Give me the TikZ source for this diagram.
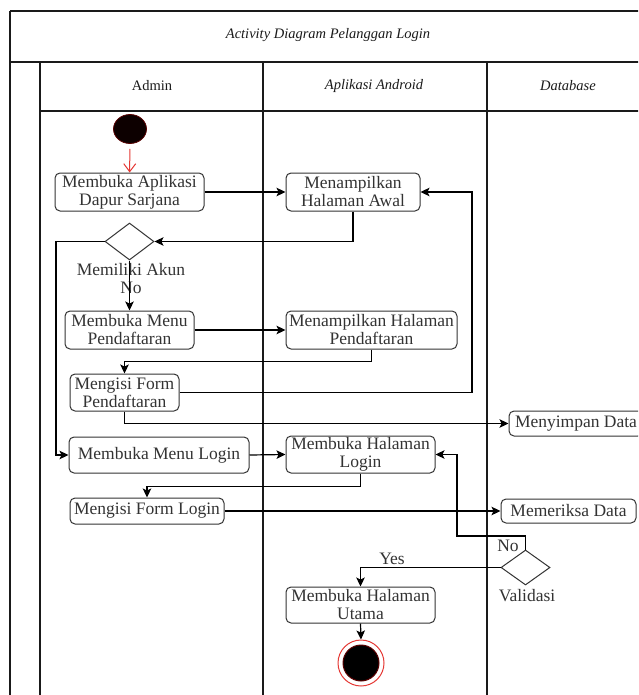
\documentclass[tikz,border=0pt]{standalone}
\usepackage{fontspec}
\setmainfont{Liberation Serif}
\usetikzlibrary{arrows.meta,shapes.geometric,calc}
\definecolor{ink}{HTML}{333333}
\definecolor{frameink}{HTML}{1A1A1A}
\definecolor{startred}{HTML}{E53935}
\definecolor{darkrim}{HTML}{5A0000}

\tikzset{
  lane/.style={draw=frameink, line width=1.5pt},
  act/.style={draw=ink, line width=1pt, rounded corners=5pt, fill=white,
    align=center, inner sep=0pt, text=ink,
    font=\fontsize{17.5}{18}\selectfont},
  decision/.style={diamond, draw=ink, line width=1pt, fill=white,
    inner sep=0pt, minimum width=49pt},
  flow/.style={draw=black, line width=1.2pt,
    -{Stealth[length=9pt,width=8.5pt,inset=2pt]}},
  startflow/.style={draw=startred, line width=1pt,
    -{Straight Barb[length=8pt,width=12pt]}},
  lbl/.style={inner sep=0pt, text=ink, font=\fontsize{17.5}{18}\selectfont},
  hdr/.style={inner sep=0pt, text=frameink, font=\fontsize{14.5}{16}\selectfont},
}

\begin{document}
\begin{tikzpicture}[x=1pt,y=-1pt]
  \useasboundingbox (0,0) rectangle (638,695);
  \fill[white] (0,0) rectangle (638,695);
  \clip (0,0) rectangle (638,695);

  % swimlane frame
  \draw[lane] (10,11) -- (648,11);
  \draw[lane] (10,62) -- (648,62);
  \draw[lane] (40,111) -- (648,111);
  \draw[lane] (10,11) -- (10,700);
  \draw[lane] (40,62) -- (40,700);
  \draw[lane] (263,62) -- (263,700);
  \draw[lane] (487,62) -- (487,700);
  \draw[lane] (648,11) -- (648,700);

  % titles
  \node[hdr] (title) at (328,35) {\itshape Activity Diagram Pelanggan Login};
  \node[hdr] (hAdmin) at (152,86) {Admin};
  \node[hdr] (hApp) at (374,86) {\itshape Aplikasi Android};
  \node[hdr] (hDb) at (568,86) {\itshape Database};

  % start / end
  \node[ellipse, fill=black!95!red, draw=darkrim, line width=0.8pt,
        minimum width=33pt, minimum height=29pt, inner sep=0pt] (start) at (130,129) {};
  \node[circle, draw=startred, line width=1pt, fill=white,
        minimum size=46pt, inner sep=0pt] (end) at (361,663) {};
  \node[circle, fill=black, draw=darkrim, line width=1pt,
        minimum size=36pt, inner sep=0pt] (endin) at (end.center) {};

  % activities
  \node[act, minimum width=149pt, minimum height=38pt] (b1) at (129.5,192) {Membuka Aplikasi\\Dapur Sarjana};
  \node[act, minimum width=134pt, minimum height=38pt] (b2) at (353,192) {Menampilkan\\Halaman Awal};
  \node[decision, minimum height=37pt] (d1) at (129.5,241.5) {};
  \node[lbl] (d1lbl) at (131,270) {Memiliki Akun};
  \node[lbl] (d1no) at (131,288) {No};
  \node[act, minimum width=129pt, minimum height=38pt] (b3) at (129.5,330) {Membuka Menu\\Pendaftaran};
  \node[act, minimum width=171pt, minimum height=38pt] (b4) at (371.5,330) {Menampilkan Halaman\\Pendaftaran};
  \node[act, minimum width=109pt, minimum height=37pt] (b5) at (124.5,392.5) {Mengisi Form\\Pendaftaran};
  \node[act, minimum width=134pt, minimum height=25pt] (b6) at (576,423.5) {Menyimpan Data};
  \node[act, minimum width=180pt, minimum height=36pt] (b7) at (159,455) {Membuka Menu Login};
  \node[act, minimum width=149pt, minimum height=37pt] (b8) at (360.5,454.5) {Membuka Halaman\\Login};
  \node[act, minimum width=154pt, minimum height=26pt] (b9) at (147,511) {Mengisi Form Login};
  \node[act, minimum width=135pt, minimum height=24pt] (b10) at (568.5,511) {Memeriksa Data};
  \node[decision, minimum height=35pt] (d2) at (525.5,567.5) {};
  \node[lbl] (d2lbl) at (527,596) {Validasi};
  \node[lbl] (d2no) at (508,546) {No};
  \node[lbl] (d2yes) at (392,559) {Yes};
  \node[act, minimum width=149pt, minimum height=36pt] (b11) at (360.5,605) {Membuka Halaman\\Utama};

  % bend points
  \coordinate (loopA) at (472,192);
  \coordinate (loopB) at (457,536);
  \coordinate (loopC) at (56,241.5);

  % connectors
  \draw[startflow, shorten <=5pt] (start) -- (b1);
  \draw[flow] (b1.east) -- (b2.west);
  \draw[flow] (b2.south) |- (d1.east);
  \draw[flow] (d1.south) -- (b3.north);
  \draw[flow] (d1.west) -- (loopC) |- (b7.west);
  \draw[flow] (b3.east) -- (b4.west);
  \draw[flow] (b4.south) -- ++(0,12) -| (b5.north);
  \draw[flow] (b5.east) -| (loopA) -- (b2.east);
  \draw[flow] (b5.south) |- (b6.west);
  \draw[flow] (b7.east) -- (b8.west);
  \draw[flow] (b8.south) -- ++(0,13) -| (b9.north);
  \draw[flow] (b9.east) -- (b10.west);
  \draw[flow] (d2.north) |- (loopB) |- (b8.east);
  \draw[flow] (d2.west) -| (b11.north);
  \draw[flow] (b11.south) -- (end.north);
\end{tikzpicture}
\end{document}
